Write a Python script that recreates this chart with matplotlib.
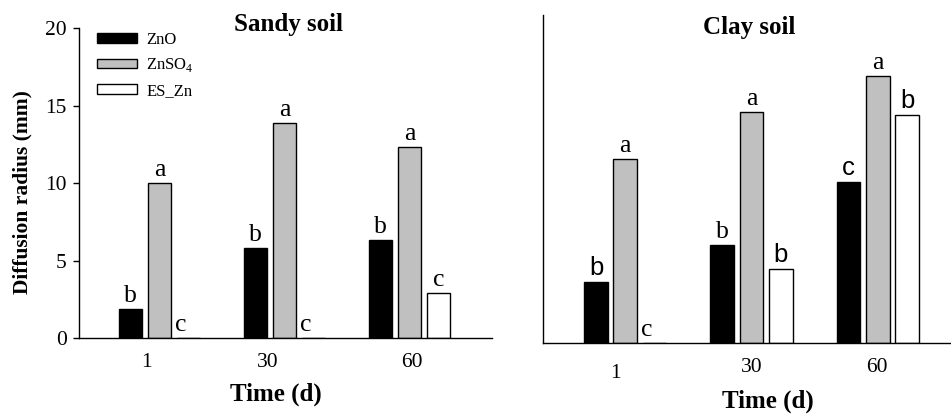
import numpy as np
import matplotlib
matplotlib.use("Agg")
import matplotlib.pyplot as plt
from matplotlib.patches import Patch

plt.rcParams['font.family'] = ['Liberation Serif', 'DejaVu Serif']
plt.rcParams['mathtext.fontset'] = 'custom'
plt.rcParams['mathtext.rm'] = 'Liberation Serif'

days = ["1", "30", "60"]
series = ["ZnO", "ZnSO$_4$", "ES_Zn"]
colors = ["black", "#c0c0c0", "white"]

# diffusion radius (mm)
sandy_zno = [1.9, 5.8, 6.3]
sandy_znso4 = [10.0, 13.9, 12.3]
sandy_es = [0.0, 0.0, 2.9]
clay_zno = [3.7, 6.0, 9.8]
clay_znso4 = [11.2, 14.1, 16.3]
clay_es = [0.0, 4.5, 13.9]

# significance letters (per series, per day)
sandy_letters = [["b", "b", "b"], ["a", "a", "a"], ["c", "c", "c"]]
clay_letters = [["b", "b", "c"], ["a", "a", "a"], ["c", "b", "b"]]
# some letters in the clay panel are set in a sans font
clay_sans = [[True, False, True], [False, False, False], [False, True, True]]

fig = plt.figure(figsize=(9.51, 4.17), dpi=100)
ax1 = fig.add_axes([0.0831, 0.1894, 0.4343, 0.7434])
ax2 = fig.add_axes([0.571, 0.1775, 0.429, 0.7866])

x = np.arange(len(days))
w = 0.188
step = 0.232


def draw(ax, data, letters, sans):
    for i, vals in enumerate(data):
        xs = x + (i - 1) * step
        ax.bar(xs, vals, width=w, color=colors[i], edgecolor="black", linewidth=1.0, zorder=2)
        for j, v in enumerate(vals):
            fam = ['Liberation Sans'] if sans[i][j] else ['Liberation Serif']
            xx = xs[j] - (0.06 if v == 0 else 0)
            ax.annotate(letters[i][j], (xx, v), xytext=(0, 5), textcoords="offset points",
                        ha="center", va="baseline", fontsize=18.5, family=fam)
    for s in ["top", "right"]:
        ax.spines[s].set_visible(False)
    ax.spines["left"].set_linewidth(1.0)
    ax.spines["bottom"].set_linewidth(1.0)
    ax.tick_params(axis="x", length=0, pad=11, labelsize=15.5)


no_sans = [[False] * 3 for _ in range(3)]
draw(ax1, [sandy_zno, sandy_znso4, sandy_es], sandy_letters, no_sans)
draw(ax2, [clay_zno, clay_znso4, clay_es], clay_letters, clay_sans)

# left panel
ax1.set_xlim(-0.644, 2.66)
ax1.set_ylim(0, 20)
ax1.set_yticks([0, 5, 10, 15, 20])
ax1.tick_params(axis="y", direction="out", length=4, width=1, pad=5, labelsize=15.5)
ax1.set_xticks([-0.108, 0.868, 2.02])
ax1.set_xticklabels(days)
ax1.set_ylabel("Diffusion radius (mm)", fontsize=15.5, fontweight="bold")
ax1.yaxis.set_label_coords(-0.112, 0.47)
ax1.set_xlabel("Time (d)", fontsize=18, fontweight="bold")
ax1.xaxis.set_label_coords(0.477, -0.145)
ax1.text(0.506, 1.01, "Sandy soil", transform=ax1.transAxes, ha="center", va="center",
         fontsize=18, fontweight="bold")

handles = [Patch(facecolor=c, edgecolor="black", linewidth=1.0) for c in colors]
ax1.legend(handles, series, loc="upper left", bbox_to_anchor=(0.043, 0.987), frameon=False,
           fontsize=12, handlelength=2.4, handleheight=0.54, handletextpad=0.56,
           borderaxespad=0, borderpad=0, labelspacing=0.5)

# right panel
ax2.set_xlim(-0.652, 2.58)
ax2.set_ylim(0, 20)
ax2.set_yticks([])
ax2.set_xticks([-0.076, 1.0, 1.99])
ax2.set_xticklabels(days)
ax2.xaxis.get_major_ticks()[0].set_pad(15)
ax2.set_xlabel("Time (d)", fontsize=18, fontweight="bold")
ax2.xaxis.set_label_coords(0.55, -0.143)
ax2.text(0.505, 0.963, "Clay soil", transform=ax2.transAxes, ha="center", va="center",
         fontsize=18, fontweight="bold")

fig.savefig("out.png", dpi=100)
